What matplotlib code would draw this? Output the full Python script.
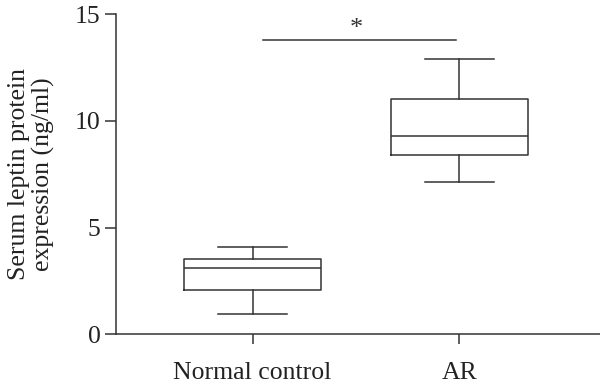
import matplotlib
matplotlib.use("Agg")
import matplotlib.pyplot as plt

# box statistics (ng/ml)
groups = ["Normal control", "AR"]
whisker_low = [0.97, 7.15]
q1 = [2.06, 8.41]
median = [3.12, 9.28]
q3 = [3.52, 11.03]
whisker_high = [4.11, 12.89]

sig_from, sig_to, sig_y = 0.048, 0.984, 13.8
yticks = [0, 5, 10, 15]

plt.rcParams['font.family'] = ['Liberation Serif', 'DejaVu Serif']
ink = '#333333'
lw = 1.1

fig = plt.figure(figsize=(6, 3.86), dpi=100)
ax = fig.add_axes([0.193, 0.134, 0.807, 0.829])

stats = []
for i, g in enumerate(groups):
    stats.append({
        'label': g, 'whislo': whisker_low[i], 'q1': q1[i], 'med': median[i],
        'q3': q3[i], 'whishi': whisker_high[i], 'fliers': [],
    })

line_props = dict(color=ink, linewidth=lw)
ax.bxp(stats, positions=range(len(groups)), widths=0.663, showfliers=False,
       boxprops=line_props, medianprops=line_props, whiskerprops=line_props,
       capprops=line_props, capwidths=0.335, manage_ticks=False)

# significance bar
ax.plot([sig_from, sig_to], [sig_y, sig_y], color=ink, linewidth=lw, clip_on=False)
ax.text(0.503, 14.05, "*", ha='center', va='baseline', fontsize=19, color=ink)

ax.set_xlim(-0.662, 1.681)
ax.set_ylim(0, 15)
ax.set_xticks(range(len(groups)))
ax.set_xticklabels(groups)
ax.set_yticks(yticks)

for side in ['top', 'right']:
    ax.spines[side].set_visible(False)
for side in ['left', 'bottom']:
    ax.spines[side].set_color(ink)
    ax.spines[side].set_linewidth(lw)

ax.tick_params(axis='y', length=8, width=lw, color=ink, labelsize=18.5,
               labelcolor='#222222', pad=3)
ax.tick_params(axis='x', length=7, width=lw, color=ink, labelsize=18.5,
               labelcolor='#222222', pad=13)

ax.set_ylabel("Serum leptin protein\nexpression (ng/ml)", fontsize=18.5,
              color='#222222', linespacing=1.15)
ax.yaxis.set_label_coords(-0.125, 0.5)

fig.savefig("out.png", dpi=100)
